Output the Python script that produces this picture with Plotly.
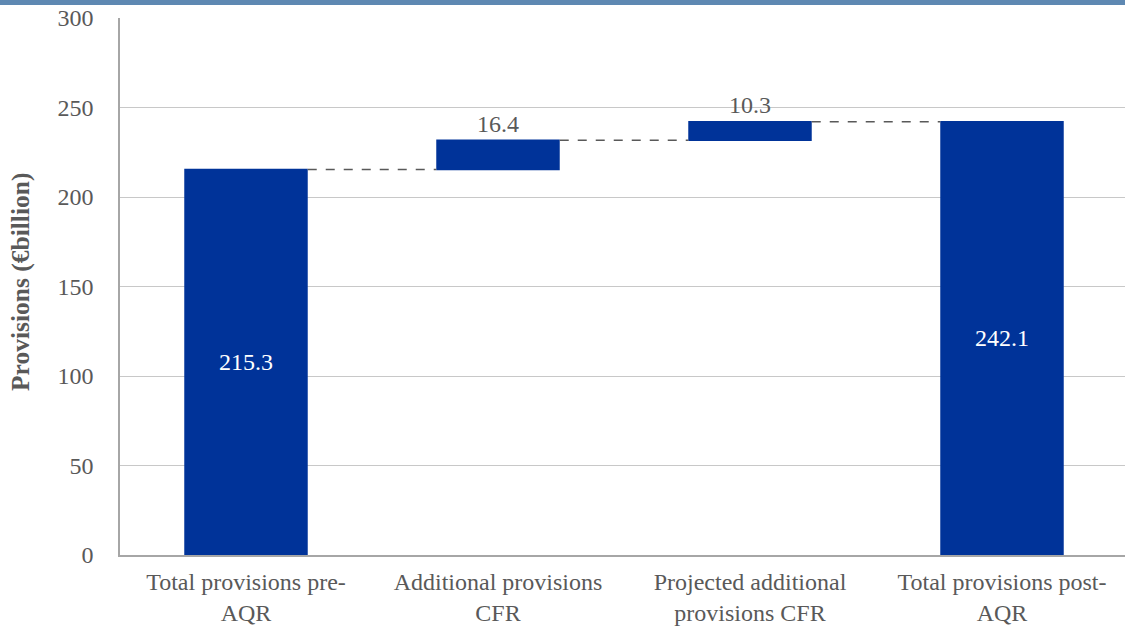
import plotly.graph_objects as go

categories = ["Total provisions pre-<br>AQR", "Additional provisions<br>CFR",
              "Projected additional<br>provisions CFR", "Total provisions post-<br>AQR"]
values = [215.3, 16.4, 10.3, 242.1]
measures = ["absolute", "relative", "relative", "absolute"]
y_ticks = [0, 50, 100, 150, 200, 250, 300]

BLUE = "#003399"
GRAY = "#595959"
FONT = "Liberation Serif"
FS = 24

W, H = 1125, 626
L, R, T, B = 120, 0, 18, 71
plot_w = W - L - R
plot_h = H - T - B

fig = go.Figure(go.Waterfall(
    x=categories,
    y=values,
    measure=measures,
    text=[f"{v:.1f}" for v in values],
    textposition=["inside", "outside", "outside", "inside"],
    insidetextanchor="middle",
    textfont=dict(family=FONT, size=FS, color=GRAY),
    insidetextfont=dict(color="white", size=FS, family=FONT),
    outsidetextfont=dict(color=GRAY, size=FS, family=FONT),
    increasing=dict(marker=dict(color=BLUE, line=dict(width=0))),
    decreasing=dict(marker=dict(color=BLUE, line=dict(width=0))),
    totals=dict(marker=dict(color=BLUE, line=dict(width=0))),
    connector=dict(mode="between", line=dict(color=GRAY, width=1.5, dash="dash")),
    width=0.49,
    cliponaxis=False,
    showlegend=False,
))

clip = 3 / 252
fig.update_layout(
    width=W, height=H,
    margin=dict(l=L, r=R, t=T, b=B),
    paper_bgcolor="white", plot_bgcolor="white",
    font=dict(family=FONT, color=GRAY, size=FS),
    xaxis=dict(
        range=[-0.5, 3.5 - clip], automargin=False,
        showline=True, linecolor="#a6a6a6", linewidth=1.5,
        showgrid=False, ticks="", ticklabelstandoff=4,
        tickfont=dict(size=FS, color=GRAY, family=FONT),
    ),
    yaxis=dict(
        range=[0, 300], tickvals=y_ticks, automargin=False,
        showline=True, linecolor="#a6a6a6", linewidth=1.5,
        showgrid=True, gridcolor="#c8c8c8", gridwidth=1.2,
        zeroline=False, ticks="", ticklabelstandoff=20,
        tickfont=dict(size=FS, color=GRAY, family=FONT),
    ),
    shapes=[dict(
        type="rect", xref="paper", yref="paper",
        x0=-L / plot_w, x1=1.0 + 0.01,
        y0=1 + (T - 5) / plot_h, y1=1 + T / plot_h + 0.01,
        fillcolor="#5E88B2", line=dict(width=0), layer="above",
    )],
    annotations=[dict(
        text="<b>Provisions (€billion)</b>", textangle=-90,
        xref="paper", yref="paper", x=(20 - L) / plot_w, y=0.5 + 4.5 / plot_h,
        xanchor="center", yanchor="middle", showarrow=False,
        font=dict(size=25.5, color=GRAY, family=FONT),
    )],
)

fig.write_html("out.html", config={"displayModeBar": False},
               post_script="document.body.style.margin='0';")
